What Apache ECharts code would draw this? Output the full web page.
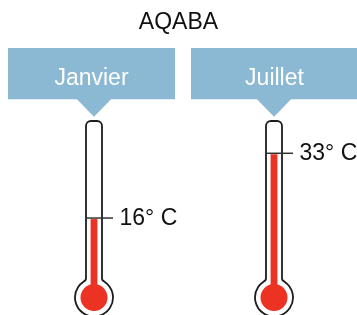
<!DOCTYPE html>
<html>
<head>
<meta charset="utf-8">
<script src="https://cdn.jsdelivr.net/npm/echarts@6/dist/echarts.min.js"></script>
<style>
html,body{margin:0;padding:0;background:#fff;}
#chart{width:357px;height:315px;}
</style>
</head>
<body>
<div id="chart"></div>
<script>
const chartTitle = 'AQABA';
const categories = ['Janvier', 'Juillet'];
const temperatures = [16, 33];
const unitSuffix = '° C';
const scaleMin = 0;
const scaleMax = 42;

const FONT = "'Liberation Sans', Arial, sans-serif";
const BOX_COLOR = '#8bb8d2';
const RED = '#ec3323';
const INK = '#1c1c1c';

const chart = echarts.init(document.getElementById('chart'), null, {renderer: 'canvas'});

function renderThermo(params, api) {
  const idx = api.value(0);
  const val = api.value(1);
  const pt = api.coord([idx, val]);
  const base = api.coord([idx, scaleMin]);
  const top = api.coord([idx, scaleMax]);
  const cx = pt[0];
  const topY = top[1] + 2;
  const by = base[1] + 18.5;
  const hw = 8;      // tube half width
  const cr = 5;      // top corner radius
  const R = 19;      // bulb outline radius
  const rIn = 13.5;  // red bulb radius
  const fw = 3.4;    // red column half width

  const ex = 10.5;
  const ey = by - Math.sqrt(R * R - ex * ex);
  const path =
    'M' + (cx - hw) + ' ' + (topY + cr) +
    ' A' + cr + ' ' + cr + ' 0 0 1 ' + (cx - hw + cr) + ' ' + topY +
    ' L' + (cx + hw - cr) + ' ' + topY +
    ' A' + cr + ' ' + cr + ' 0 0 1 ' + (cx + hw) + ' ' + (topY + cr) +
    ' L' + (cx + hw) + ' ' + (ey - 3.5) +
    ' Q' + (cx + hw) + ' ' + (ey - 1) + ' ' + (cx + ex) + ' ' + ey +
    ' A' + R + ' ' + R + ' 0 1 1 ' + (cx - ex) + ' ' + ey +
    ' Q' + (cx - hw) + ' ' + (ey - 1) + ' ' + (cx - hw) + ' ' + (ey - 3.5) +
    ' Z';

  const boxW = 167, gap = 16, boxL = 8;
  const bx = boxL + idx * (boxW + gap);
  const boxTop = 48, boxBot = 99.3;
  const triHalf = 17.5;

  return {
    type: 'group',
    children: [
      {
        type: 'rect',
        shape: {x: bx, y: boxTop, width: boxW, height: boxBot - boxTop},
        style: {fill: BOX_COLOR}
      },
      {
        type: 'polygon',
        shape: {points: [[cx - triHalf, boxBot - 0.5], [cx + triHalf, boxBot - 0.5], [cx, boxBot + 17.5]]},
        style: {fill: BOX_COLOR}
      },
      {
        type: 'text',
        style: {
          text: categories[idx],
          x: bx + boxW / 2, y: 79,
          align: 'center', verticalAlign: 'middle',
          font: '23px ' + FONT, fill: '#ffffff'
        }
      },
      {
        type: 'path',
        shape: {pathData: path},
        style: {fill: '#ffffff', stroke: INK, lineWidth: 1.8}
      },
      {
        type: 'rect',
        shape: {x: cx - fw, y: pt[1] + 1, width: fw * 2, height: by - pt[1] - 1},
        style: {fill: RED}
      },
      {
        type: 'circle',
        shape: {cx: cx, cy: by, r: rIn},
        style: {fill: RED}
      },
      {
        type: 'line',
        shape: {x1: cx - hw - 1, y1: pt[1], x2: cx + 19, y2: pt[1]},
        style: {stroke: '#333333', lineWidth: 1.5}
      },
      {
        type: 'text',
        style: {
          text: val + unitSuffix,
          x: cx + 25.5, y: pt[1] + 0.5,
          align: 'left', verticalAlign: 'middle',
          font: '23px ' + FONT, fill: '#111111'
        }
      }
    ]
  };
}

chart.setOption({
  backgroundColor: '#ffffff',
  animation: false,
  title: {
    text: chartTitle,
    left: 'center',
    top: 6,
    textStyle: {fontFamily: FONT, fontSize: 23, fontWeight: 'normal', color: '#111111'}
  },
  grid: {left: 94, right: 83, top: 119, bottom: 36},
  xAxis: {type: 'category', data: categories, boundaryGap: false, show: false},
  yAxis: {type: 'value', min: scaleMin, max: scaleMax, show: false},
  series: [{
    type: 'custom',
    renderItem: renderThermo,
    data: temperatures.map((v, i) => [i, v]),
    clip: false
  }]
});
</script>
</body>
</html>
